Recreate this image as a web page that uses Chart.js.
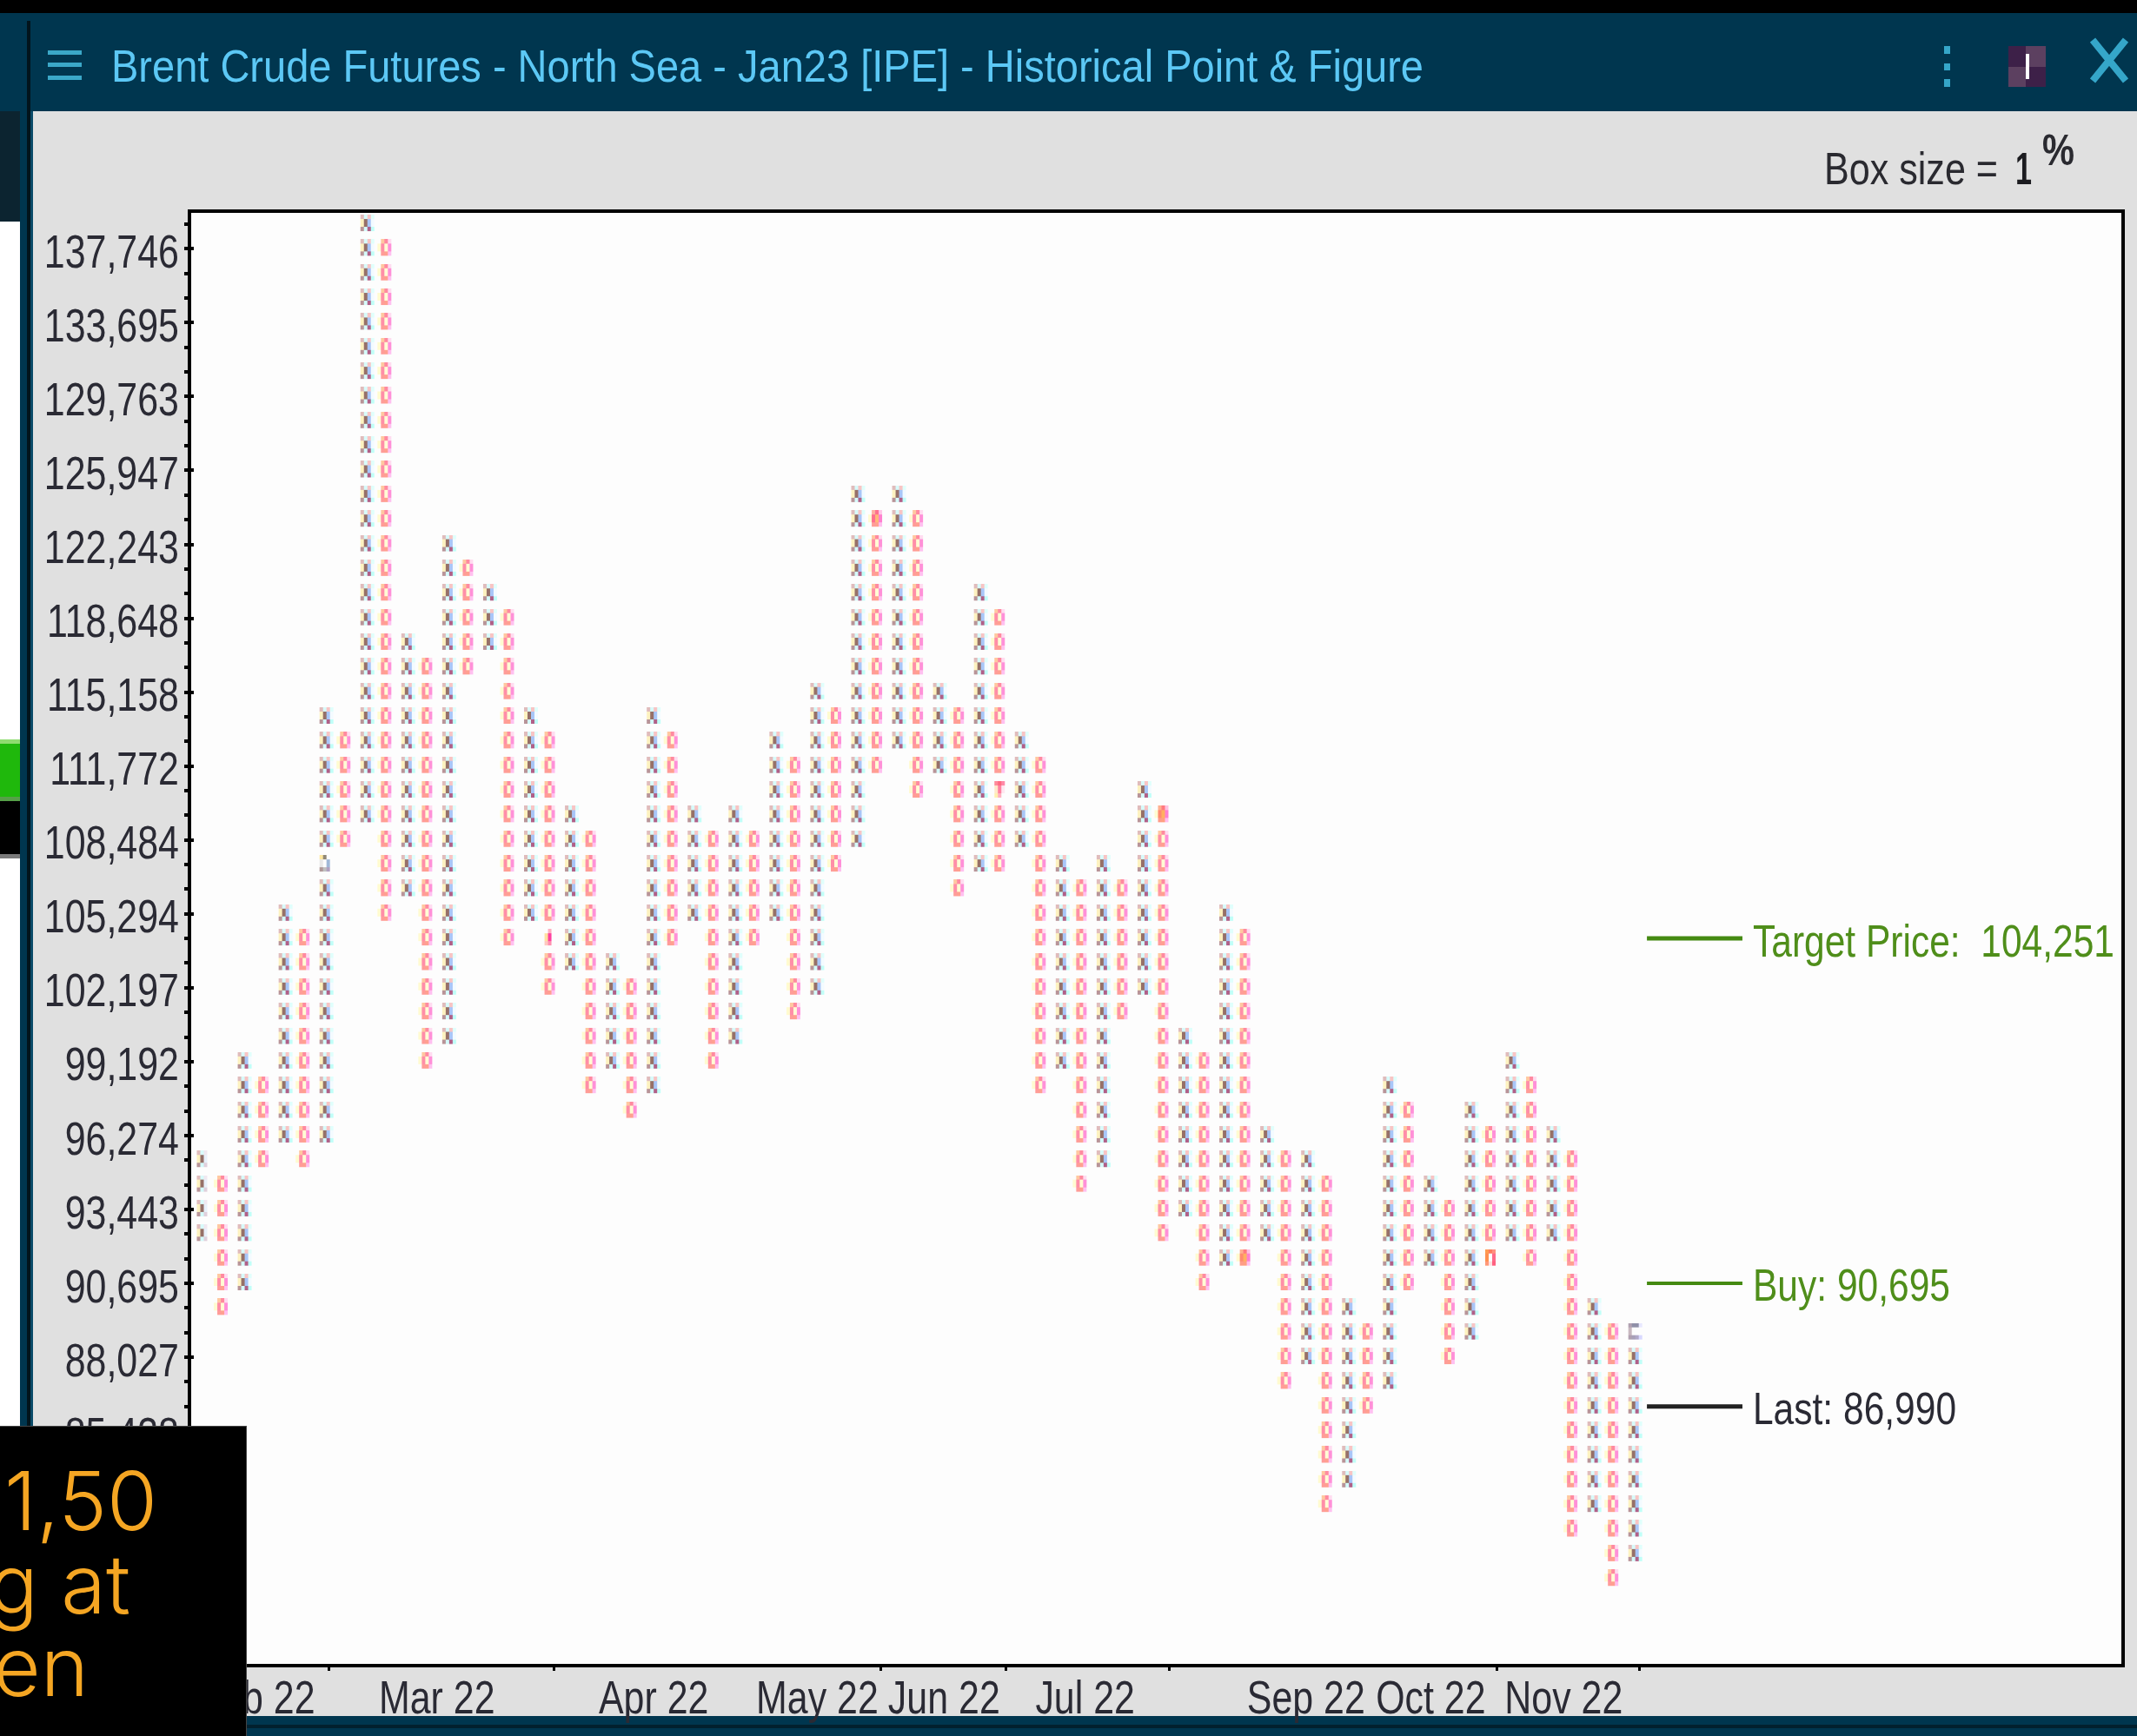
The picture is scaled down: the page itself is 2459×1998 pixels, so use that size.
<!DOCTYPE html>
<html><head><meta charset="utf-8">
<style>
html,body{margin:0;padding:0;background:#e0e0e0;width:2459px;height:1998px;overflow:hidden}
.a{position:absolute}
#c{position:absolute;left:0;top:0;z-index:1}
.t{position:absolute;white-space:pre;font-family:'Liberation Sans',sans-serif;line-height:1;transform-origin:left top}
</style>
<script src="https://cdn.jsdelivr.net/npm/chart.js@4/dist/chart.umd.min.js"></script>
</head><body>
<!-- window chrome -->
<div class="a" style="left:0;top:0;width:2459px;height:15px;background:#000"></div>
<div class="a" style="left:0;top:15px;width:2459px;height:113px;background:#00364f"></div>
<div class="a" style="left:0;top:128px;width:23px;height:127px;background:#0c2430"></div>
<div class="a" style="left:0;top:255px;width:23px;height:1386px;background:#fff"></div>
<div class="a" style="left:0;top:851px;width:23px;height:5px;background:#8fdc70"></div>
<div class="a" style="left:0;top:856px;width:23px;height:61px;background:#1fb80c"></div>
<div class="a" style="left:0;top:917px;width:23px;height:5px;background:#56a048"></div>
<div class="a" style="left:0;top:922px;width:23px;height:61px;background:#000"></div>
<div class="a" style="left:0;top:983px;width:23px;height:5px;background:#7a7a7a"></div>
<div class="a" style="left:23px;top:128px;width:8px;height:1513px;background:#00364f"></div>
<div class="a" style="left:31px;top:24px;width:4px;height:1617px;background:#02141c"></div>
<div class="a" style="left:35px;top:128px;width:3px;height:1513px;background:#0a4a68"></div>
<div class="a" style="left:284px;top:1975px;width:2175px;height:23px;background:#00364f"></div>
<div class="a" style="left:284px;top:1985px;width:2175px;height:4px;background:#02202e"></div>
<div class="a" style="left:55px;top:58px;width:39px;height:5px;background:#3ba8c8"></div>
<div class="a" style="left:55px;top:72px;width:39px;height:5px;background:#3ba8c8"></div>
<div class="a" style="left:55px;top:87px;width:39px;height:5px;background:#3ba8c8"></div>
<div class="t" data-w="1510" style="left:128px;top:50px;font-size:52px;color:#5cc8f5;z-index:2">Brent Crude Futures - North Sea - Jan23 [IPE] - Historical Point &amp; Figure</div>
<div class="a" style="left:2237px;top:53px;width:7px;height:9px;background:#35a6c9"></div>
<div class="a" style="left:2237px;top:73px;width:7px;height:8px;background:#35a6c9"></div>
<div class="a" style="left:2237px;top:91px;width:7px;height:9px;background:#35a6c9"></div>
<div class="a" style="left:2311px;top:53px;width:20px;height:24px;background:#3d2048"></div>
<div class="a" style="left:2331px;top:53px;width:23px;height:24px;background:#5c4060"></div>
<div class="a" style="left:2311px;top:77px;width:20px;height:23px;background:#5c4060"></div>
<div class="a" style="left:2331px;top:77px;width:23px;height:23px;background:#3d2048"></div>
<div class="a" style="left:2331px;top:62px;width:4px;height:29px;background:#fff"></div>
<svg class="a" style="left:2405px;top:43px" width="44" height="53"><path d="M3 3L41 50M41 3L3 50" stroke="#35a6c9" stroke-width="8" fill="none"/></svg>
<div class="t" data-w="200" style="left:2099px;top:168px;font-size:52px;color:#2a2a30;z-index:2">Box size =</div>
<div class="t" data-w="19" style="left:2319px;top:168px;font-size:52px;font-weight:bold;color:#1c1c20;z-index:2">1</div>
<div class="t" data-w="37" style="left:2350px;top:148px;font-size:50px;font-weight:bold;color:#2a2a30;z-index:2">%</div>
<canvas id="c" width="2459" height="1998"></canvas>
<!-- overlapping caption panel -->
<div class="a" style="left:0;top:1641px;width:284px;height:357px;background:#000;z-index:3;overflow:hidden;border-top:1px solid #444;border-right:1px solid #444;box-sizing:border-box">
  <div style="position:absolute;right:102px;top:38px;font:300 94px/1 Inter,'Open Sans',sans-serif;color:#f5a623;white-space:pre">91,50</div>
  <div style="position:absolute;right:133px;top:134px;font:300 94px/1 Inter,'Open Sans',sans-serif;color:#f5a623;white-space:pre">g at</div>
  <div style="position:absolute;right:181px;top:229px;font:300 94px/1 Inter,'Open Sans',sans-serif;color:#f5a623;white-space:pre">en</div>
</div>
<script>
// Box ladder of the 1% point & figure chart (top to bottom)
const boxLadder = [139.123,137.746,136.382,135.032,133.695,132.371,131.061,129.763,128.478,127.206,125.947,124.700,123.465,122.243,121.033,119.834,118.648,117.473,116.310,115.158,114.018,112.889,111.772,110.665,109.569,108.484,107.410,106.347,105.294,104.251,103.219,102.197,101.185,100.183,99.192,98.210,97.237,96.274,95.321,94.377,93.443,92.518,91.602,90.695,89.797,88.908,88.027,87.155,86.292,85.438,84.592,83.754,82.925,82.104,81.291,80.486];
const yTickValues = [137.746,133.695,129.763,125.947,122.243,118.648,115.158,111.772,108.484,105.294,102.197,99.192,96.274,93.443,90.695,88.027,85.438];
// Columns, left to right: X and O alternate, starting with X
const columnKinds = ['X','O','X','O','X','O','X','O','X','O','X','O','X','O','X','O','X','O','X','O','X','O','X','O','X','O','X','O','X','O','X','O','X','O','X','O','X','O','X','O','X','O','X','O','X','O','X','O','X','O','X','O','X','O','X','O','X','O','X','O','X','O','X','O','X','O','X','O','X','O','X'];
const columnTops = [95.321,94.377,99.192,98.210,105.294,104.251,114.018,112.889,139.123,137.746,117.473,116.310,122.243,121.033,119.834,118.648,114.018,112.889,109.569,108.484,103.219,102.197,114.018,112.889,109.569,108.484,109.569,108.484,112.889,111.772,115.158,114.018,124.700,123.465,124.700,123.465,115.158,114.018,119.834,118.648,112.889,111.772,107.410,106.347,107.410,106.347,110.665,109.569,100.183,99.192,105.294,104.251,96.274,95.321,95.321,94.377,89.797,88.908,98.210,97.237,94.377,93.443,97.237,96.274,99.192,98.210,96.274,95.321,89.797,88.908,88.908];
const columnBottoms = [92.518,89.797,90.695,95.321,96.274,95.321,96.274,108.484,109.569,105.294,106.347,99.192,100.183,116.310,117.473,104.251,105.294,102.197,103.219,98.210,99.192,97.237,98.210,104.251,105.294,99.192,100.183,104.251,105.294,101.185,102.197,107.410,108.484,111.772,112.889,110.665,111.772,106.347,107.410,107.410,108.484,98.210,99.192,94.377,95.321,101.185,102.197,92.518,93.443,90.695,91.602,91.602,92.518,87.155,88.027,82.925,83.754,86.292,87.155,90.695,91.602,88.027,88.908,91.602,92.518,91.602,92.518,82.104,82.925,80.486,81.291];
// Month marks replacing a box
const monthMarkColumns = [6,17,33,39,47,51,63,70];
const monthMarkPrices = [107.410,104.251,123.465,110.665,109.569,91.602,91.602,88.908];
const monthMarkChars = ['3','4','6','7','8','9','A','C'];
// Month axis
const monthLabels = ['Feb 22','Mar 22','Apr 22','May 22','Jun 22','Jul 22','Sep 22','Oct 22','Nov 22'];
const monthLabelColumns = [2.6,11.4,22,30,36.2,43.1,53.9,60,66.5];
const monthTickColumns = [6.1,17.1,33.1,39.2,47.2,63.2,70.2];
// Reference levels
const refLabels = ['Target Price:  104,251','Buy: 90,695','Last: 86,990'];
const refPrices = [104.251,90.695,86.292];
const refColors = ['#458a12','#458a12','#222222'];
const refWidths = [5,4,5];
const refLineStart = 70.57, refLineEnd = 75.24;
const axisColMin = -0.616, axisColMax = 93.77, axisPriceMin = 77.77, axisPriceMax = 139.809;

const SANS = "'Liberation Sans',sans-serif";
const TEXT_SQUEEZE = 0.81;

document.querySelectorAll('.t[data-w]').forEach(el => {
  const w = el.getBoundingClientRect().width;
  el.style.transform = 'scaleX(' + (Number(el.dataset.w) / w) + ')';
});

function cells(w, h, rows, ox){
  const raw = document.createElement('canvas'); raw.width = w; raw.height = h;
  const r = raw.getContext('2d');
  const rowH = [5, 9, 5], colW = 4;
  let y = 0;
  rows.forEach((row, j) => {
    let x = ox;
    row.forEach(col => {
      if (col) { r.fillStyle = col; r.fillRect(x, y, colW, rowH[j]); }
      x += colW;
    });
    y += rowH[j];
  });
  const cv = document.createElement('canvas'); cv.width = w; cv.height = h;
  const g = cv.getContext('2d');
  g.filter = 'blur(0.6px)';
  g.drawImage(raw, 0, 0);
  return cv;
}
const glyphX = cells(18, 22, [
  ['#e0bcbc','#d8fbfb','#f8c4c4','#e0fffc'],
  ['#fdf2c0','#967068','#a8c6f8','#f4fbff'],
  ['#b89498','#d4fbfb','#b06088','#c0fff8']], 1);
const glyphO = cells(26, 22, [
  [null,'#ffc8a0','#ff8aa0','#ffdcf0'],
  ['#fffbd0','#ff8ea8','#fffcd4','#ff90d8'],
  [null,'#ff9c98','#ffa090','#ffc0f0']], 1);
const glyphXCut = cells(18, 22, [
  ['#e0bcbc','#d8fbfb','#f0e8f0',null],
  ['#fdf2c0','#967068','#e8f0fa',null],
  ['#b89498','#d4fbfb','#e0d0dc',null]], 1);
const monthGlyphCells = {
  '3': [['#ffe8a0','#908878','#fdfdfd',null],['#e8e8e8','#fdfdfd','#a0b8d8',null],['#b09898','#c0c0c0','#b0a0c0',null]],
  '4': [[null,null,'#ffb0c0',null],[null,'#ffe0a0','#ff40a0',null],[null,'#ffc8c0','#ff90b0',null]],
  '6': [[null,'#ffb0a0','#ff7090','#ffc8e8'],['#fffbd0','#ff6e90','#ffb878','#ff80d0'],[null,'#ff9c98','#ffa090','#ffc0f0']],
  '7': [[null,'#ff8a9a','#ff6a80','#ff8aa8'],[null,'#ffe8c8','#ff80a0','#ffe8f0'],[null,'#fff0b0','#ffb0c0',null]],
  '8': [[null,'#ffb090','#ff7a80','#ffc0e0'],['#fffbd0','#ff8a70','#ffb060','#ff80d0'],[null,'#ff9c88','#ffa080','#ffc0f0']],
  '9': [[null,'#ffb090','#ff7a80','#ffc0e0'],['#fffbd0','#ff8a70','#ffb060','#ff80d0'],[null,'#ff9c88','#ffa080','#ffc0f0']],
  'A': [[null,'#ff9a50','#ff7a60','#ff9080'],['#fdfdfd','#ff9050','#fdfdfd','#ff6a8a'],[null,'#ff9878','#ffe0e0','#ff6080']],
  'C': [['#b0a0b0','#9090a8','#9090a8','#e8e8ff'],['#c8b8c0','#fdfdfd','#fdfdfd',null],['#b0a0b0','#a8a0b8','#b0a8c8','#d8d8ff']]
};
const markGlyphs = {};
monthMarkChars.forEach((ch, i) => {
  const kind = columnKinds[monthMarkColumns[i]];
  markGlyphs[monthMarkColumns[i] + '|' + monthMarkPrices[i]] = kind === 'X' ? cells(18, 22, monthGlyphCells[ch], 1) : cells(26, 22, monthGlyphCells[ch], 1);
});

function pointsOf(kind){
  const out = [];
  columnKinds.forEach((k, c) => {
    if (k !== kind) return;
    boxLadder.forEach(p => { if (p <= columnTops[c] && p >= columnBottoms[c]) out.push({x: c, y: p}); });
  });
  return out;
}
function styleOf(base){
  return ctx => {
    const r = ctx.raw; if (!r) return base;
    const m = markGlyphs[r.x + '|' + r.y]; if (m) return m;
    if (r.x === 0) return glyphXCut;
    return base;
  };
}
const refDatasets = refLabels.map((l, i) => ({
  label: l, type: 'line', data: [{x: refLineStart, y: refPrices[i]}, {x: refLineEnd, y: refPrices[i]}],
  borderColor: refColors[i], borderWidth: refWidths[i], pointRadius: 0, fill: false
}));

const frame = {
  id: 'frame',
  beforeDraw(ch){
    const a = ch.chartArea, g = ch.ctx;
    g.save(); g.fillStyle = '#fdfdfd'; g.fillRect(a.left, a.top, a.right - a.left, a.bottom - a.top); g.restore();
  },
  afterDraw(ch){
    const a = ch.chartArea, g = ch.ctx, ys = ch.scales.y, xs = ch.scales.x;
    g.save();
    g.strokeStyle = '#000'; g.lineWidth = 4;
    g.strokeRect(a.left - 2, a.top - 1, a.right - a.left + 4, a.bottom - a.top + 3);
    g.fillStyle = '#000';
    boxLadder.forEach(p => { g.fillRect(a.left - 8, Math.round(ys.getPixelForValue(p)) - 2, 5, 4); });
    yTickValues.forEach(p => { g.fillRect(a.left - 8, Math.round(ys.getPixelForValue(p)) - 2, 11, 4); });
    monthTickColumns.forEach(c => { g.fillRect(Math.round(xs.getPixelForValue(c)) - 1, a.bottom + 4, 3, 4); });
    g.font = '52.5px ' + SANS; g.textBaseline = 'middle'; g.textAlign = 'left';
    refLabels.forEach((l, i) => {
      g.fillStyle = refColors[i] === '#222222' ? '#2a2a34' : '#4f8e1a';
      g.fillText(l, xs.getPixelForValue(refLineEnd) + 12, ys.getPixelForValue(refPrices[i]) + 6);
    });
    g.restore();
  }
};

const chart = new Chart(document.getElementById('c').getContext('2d'), {
  type: 'line',
  plugins: [frame],
  data: { datasets: [
    { label: 'X', data: pointsOf('X'), showLine: false, pointStyle: styleOf(glyphX), pointRadius: 6 },
    { label: 'O', data: pointsOf('O'), showLine: false, pointStyle: styleOf(glyphO), pointRadius: 6 },
    ...refDatasets
  ]},
  options: {
    responsive: false, animation: false, devicePixelRatio: 1,
    layout: { padding: { top: 244, left: 0, right: 18, bottom: 0 } },
    plugins: { legend: { display: false }, tooltip: { enabled: false } },
    scales: {
      x: { type: 'linear', min: axisColMin, max: axisColMax, position: 'bottom',
        grid: { display: false, drawTicks: false }, border: { display: false },
        afterFit: s => { s.height = 83; },
        afterBuildTicks: s => { s.ticks = monthLabelColumns.map(v => ({ value: v })); },
        ticks: { autoSkip: false, maxRotation: 0, padding: 11, color: '#2a2a34',
          font: { family: SANS, size: 53 }, callback: (v, i) => monthLabels[i] } },
      y: { type: 'logarithmic', min: axisPriceMin, max: axisPriceMax, position: 'left',
        grid: { display: false, drawTicks: false }, border: { display: false },
        afterFit: s => { s.width = 220; },
        afterBuildTicks: s => { s.ticks = yTickValues.map(v => ({ value: v })); },
        ticks: { autoSkip: false, padding: 14, labelOffset: 7, color: '#2a2a34',
          font: { family: SANS, size: 53 }, callback: v => Number(v).toFixed(3).replace('.', ',') } }
    }
  }
});
// The source chart uses a condensed face: squeeze all canvas text horizontally around its anchor.
const g0 = chart.ctx, nativeFill = g0.fillText.bind(g0);
g0.fillText = function(text, x, y){
  g0.save(); g0.translate(x, y); g0.scale(TEXT_SQUEEZE, 1);
  nativeFill(text, 0, 0);
  g0.restore();
};
chart.draw();
</script>
</body></html>
